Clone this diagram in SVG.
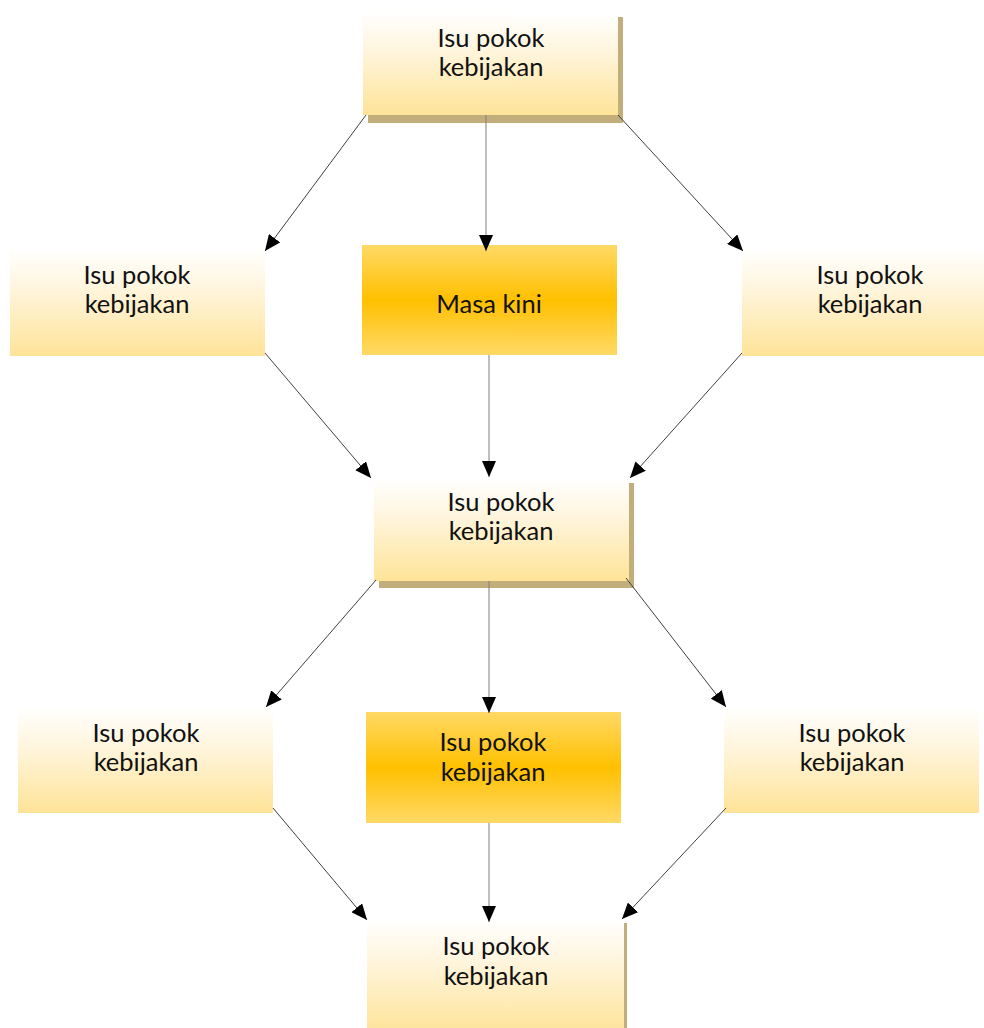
<svg xmlns="http://www.w3.org/2000/svg" width="984" height="1028" viewBox="0 0 984 1028">
  <defs>
    <linearGradient id="gLight" x1="0" y1="0" x2="0" y2="1">
      <stop offset="0" stop-color="#ffffff"/>
      <stop offset="0.35" stop-color="#fff6e0"/>
      <stop offset="1" stop-color="#fee398"/>
    </linearGradient>
    <linearGradient id="gGold" x1="0" y1="0" x2="0" y2="1">
      <stop offset="0" stop-color="#ffd966"/>
      <stop offset="0.5" stop-color="#ffc000"/>
      <stop offset="1" stop-color="#ffd966"/>
    </linearGradient>
    <marker id="arrow" markerUnits="userSpaceOnUse" markerWidth="16" markerHeight="14" viewBox="0 0 16 14" refX="16" refY="7" orient="auto">
      <path d="M0,0 L16,7 L0,14 Z" fill="#000"/>
    </marker>
    <style>
      .light { fill: url(#gLight); }
      .gold { fill: url(#gGold); }
      .shadow { fill: #c2ae7b; }
      .label { font-family: "Lato", "Open Sans", sans-serif; font-size: 25.5px; fill: #111; text-anchor: middle; }
      .conn line { stroke: #404040; stroke-width: 1; marker-end: url(#arrow); }
      .conn line.v { stroke: #7f7f7f; }
    </style>
  </defs>

  <rect width="984" height="1028" fill="#fff"/>

  <g id="top">
    <rect class="shadow" x="368" y="17" width="255" height="106"/>
    <rect class="light" x="363" y="12" width="255" height="103"/>
    <text class="label" x="491" y="47">Isu pokok</text>
    <text class="label" x="491" y="76">kebijakan</text>
  </g>

  <g id="left-1">
    <rect class="light" x="10" y="248" width="255" height="108"/>
    <text class="label" x="137" y="284">Isu pokok</text>
    <text class="label" x="137" y="313">kebijakan</text>
  </g>

  <g id="masa-kini">
    <rect class="gold" x="362" y="245" width="255" height="110"/>
    <text class="label" x="489" y="313">Masa kini</text>
  </g>

  <g id="right-1">
    <rect class="light" x="742" y="248" width="255" height="108"/>
    <text class="label" x="870" y="284">Isu pokok</text>
    <text class="label" x="870" y="313">kebijakan</text>
  </g>

  <g id="middle">
    <rect class="shadow" x="379" y="483" width="255" height="105"/>
    <rect class="light" x="374" y="478" width="255" height="103"/>
    <text class="label" x="501" y="511">Isu pokok</text>
    <text class="label" x="501" y="540">kebijakan</text>
  </g>

  <g id="left-2">
    <rect class="light" x="18" y="707" width="255" height="106"/>
    <text class="label" x="146" y="742">Isu pokok</text>
    <text class="label" x="146" y="771">kebijakan</text>
  </g>

  <g id="center-2">
    <rect class="gold" x="366" y="712" width="255" height="111"/>
    <text class="label" x="493" y="751">Isu pokok</text>
    <text class="label" x="493" y="781">kebijakan</text>
  </g>

  <g id="right-2">
    <rect class="light" x="724" y="707" width="255" height="106"/>
    <text class="label" x="852" y="742">Isu pokok</text>
    <text class="label" x="852" y="771">kebijakan</text>
  </g>

  <g id="bottom">
    <rect class="shadow" x="372" y="923" width="255" height="110"/>
    <rect class="light" x="367" y="918" width="257" height="115"/>
    <text class="label" x="496" y="955">Isu pokok</text>
    <text class="label" x="496" y="985">kebijakan</text>
  </g>

  <g id="connectors" class="conn">
    <line x1="366" y1="115" x2="265" y2="251"/>
    <line class="v" x1="486" y1="115" x2="486" y2="251"/>
    <line x1="618" y1="115" x2="743" y2="251"/>

    <line x1="265" y1="353" x2="371" y2="478"/>
    <line class="v" x1="489" y1="355" x2="489" y2="477"/>
    <line x1="742" y1="353" x2="630" y2="478"/>

    <line x1="376" y1="580" x2="266" y2="707"/>
    <line class="v" x1="489" y1="581" x2="489" y2="713"/>
    <line x1="626" y1="578" x2="726" y2="707"/>

    <line x1="273" y1="808" x2="367" y2="920"/>
    <line class="v" x1="489" y1="823" x2="489" y2="922"/>
    <line x1="726" y1="808" x2="622" y2="919"/>
  </g>
</svg>
